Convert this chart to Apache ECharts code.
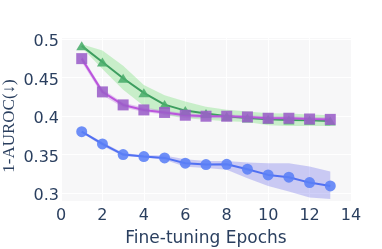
<!DOCTYPE html>
<html><head><meta charset="utf-8">
<script src="https://cdn.jsdelivr.net/npm/echarts@6/dist/echarts.min.js"></script>
<style>html,body{margin:0;padding:0;background:#fff}#c{width:382px;height:249px}</style>
</head><body><div id="c"></div>
<script>
var epochs = [1,2,3,4,5,6,7,8,9,10,11,12,13];
var xTicks = [0,2,4,6,8,10,12,14];
var yTicks = [0.3,0.35,0.4,0.45,0.5];

var greenMean = [0.491,0.470,0.449,0.430,0.4147,0.4069,0.403,0.3996,0.3974,0.3957,0.3948,0.3944,0.3935];
var greenLow  = [0.489,0.461,0.434,0.413,0.401,0.397,0.395,0.393,0.392,0.388,0.387,0.387,0.387];
var greenHigh = [0.493,0.485,0.465,0.440,0.427,0.4186,0.412,0.408,0.4056,0.4035,0.403,0.402,0.401];

var purpleMean = [0.4744,0.4312,0.4143,0.4078,0.4045,0.4009,0.3996,0.3996,0.3987,0.397,0.397,0.396,0.3955];
var purpleLow  = [0.470,0.427,0.411,0.405,0.402,0.398,0.397,0.397,0.396,0.3945,0.3945,0.3935,0.393];
var purpleHigh = [0.478,0.435,0.417,0.411,0.407,0.4035,0.402,0.402,0.401,0.3995,0.3995,0.3985,0.398];

var blueMean = [0.3796,0.3636,0.3498,0.3472,0.3455,0.3386,0.3368,0.3372,0.3308,0.3234,0.3204,0.3134,0.3091];
var blueLow  = [0.378,0.361,0.348,0.346,0.343,0.334,0.3325,0.330,0.319,0.309,0.302,0.294,0.292];
var blueHigh = [0.381,0.366,0.352,0.349,0.3485,0.3437,0.3416,0.3416,0.3394,0.3386,0.3386,0.3342,0.3277];

function pairs(ys){ return epochs.map(function(x,i){ return [x, ys[i]]; }); }

function band(lo, hi, color){
  return {
    type:'custom', silent:true, z:1, clip:true,
    data: pairs(hi),
    encode:{x:0, y:1},
    renderItem: function(params, api){
      if (params.dataIndex !== 0) return null;
      var pts = [];
      for (var i=0;i<epochs.length;i++) pts.push(api.coord([epochs[i], hi[i]]));
      for (var j=epochs.length-1;j>=0;j--) pts.push(api.coord([epochs[j], lo[j]]));
      return {type:'polygon', shape:{points:pts}, style:{fill:color}};
    }
  };
}
function line(name, ys, lineColor, markColor, symbol, size){
  return {type:'line', name:name, data:pairs(ys), symbol:symbol, symbolSize:size,
    lineStyle:{color:lineColor, width:2}, itemStyle:{color:markColor, opacity:0.88}, z:3};
}

var txt = '#2a3f5f';
var chart = echarts.init(document.getElementById('c'), null, {renderer:'canvas'});
chart.setOption({
  animation:false,
  grid:{left:61, right:31, top:37, bottom:48, show:true, backgroundColor:'#f7f7f8', borderWidth:0,
        containLabel:false, outerBoundsMode:'none'},
  xAxis:{type:'value', min:0, max:14, interval:2,
    axisLine:{show:false}, axisTick:{show:false},
    splitLine:{show:true, lineStyle:{color:'#ffffff', width:1}},
    axisLabel:{color:txt, fontFamily:'DejaVu Sans', fontSize:16, margin:7,
      formatter:function(v){ return xTicks.indexOf(v)>=0 ? String(v) : ''; }},
    name:'Fine-tuning Epochs', nameLocation:'middle', nameGap:29, nameMoveOverlap:false,
    nameTextStyle:{color:txt, fontFamily:'DejaVu Sans', fontSize:17}},
  yAxis:{type:'value', min:0.2895, max:0.5025, splitNumber:4,
    axisLine:{show:false}, axisTick:{show:false},
    splitLine:{show:true, lineStyle:{color:'#ffffff', width:1}},
    axisLabel:{color:txt, fontFamily:'DejaVu Sans', fontSize:16, margin:2,
      showMinLabel:false, showMaxLabel:false,
      rich:{a:{color:txt, fontFamily:'DejaVu Sans', fontSize:16, padding:[6,0,0,0]}},
      formatter:function(v){ var r=+v.toFixed(2); return yTicks.indexOf(r)>=0 ? '{a|'+String(r)+'}' : ''; }},
    name:'1-AUROC(\u2193)', nameLocation:'middle', nameGap:43, nameRotate:90, nameMoveOverlap:false,
    nameTextStyle:{color:txt, fontFamily:'Liberation Serif', fontSize:17, padding:[0,14,0,0]}},
  series: [
    band(greenLow, greenHigh, 'rgba(130,225,130,0.40)'),
    band(purpleLow, purpleHigh, 'rgba(190,110,225,0.35)'),
    band(blueLow, blueHigh, 'rgba(110,110,235,0.33)'),
    line('green', greenMean, '#3d9e5f', '#4aad6b', 'triangle', [11,9]),
    line('purple', purpleMean, '#bb55dd', '#9b5ec8', 'rect', 11),
    line('blue', blueMean, '#5170f2', '#5a80f6', 'circle', 11)
  ]
});
</script></body></html>
